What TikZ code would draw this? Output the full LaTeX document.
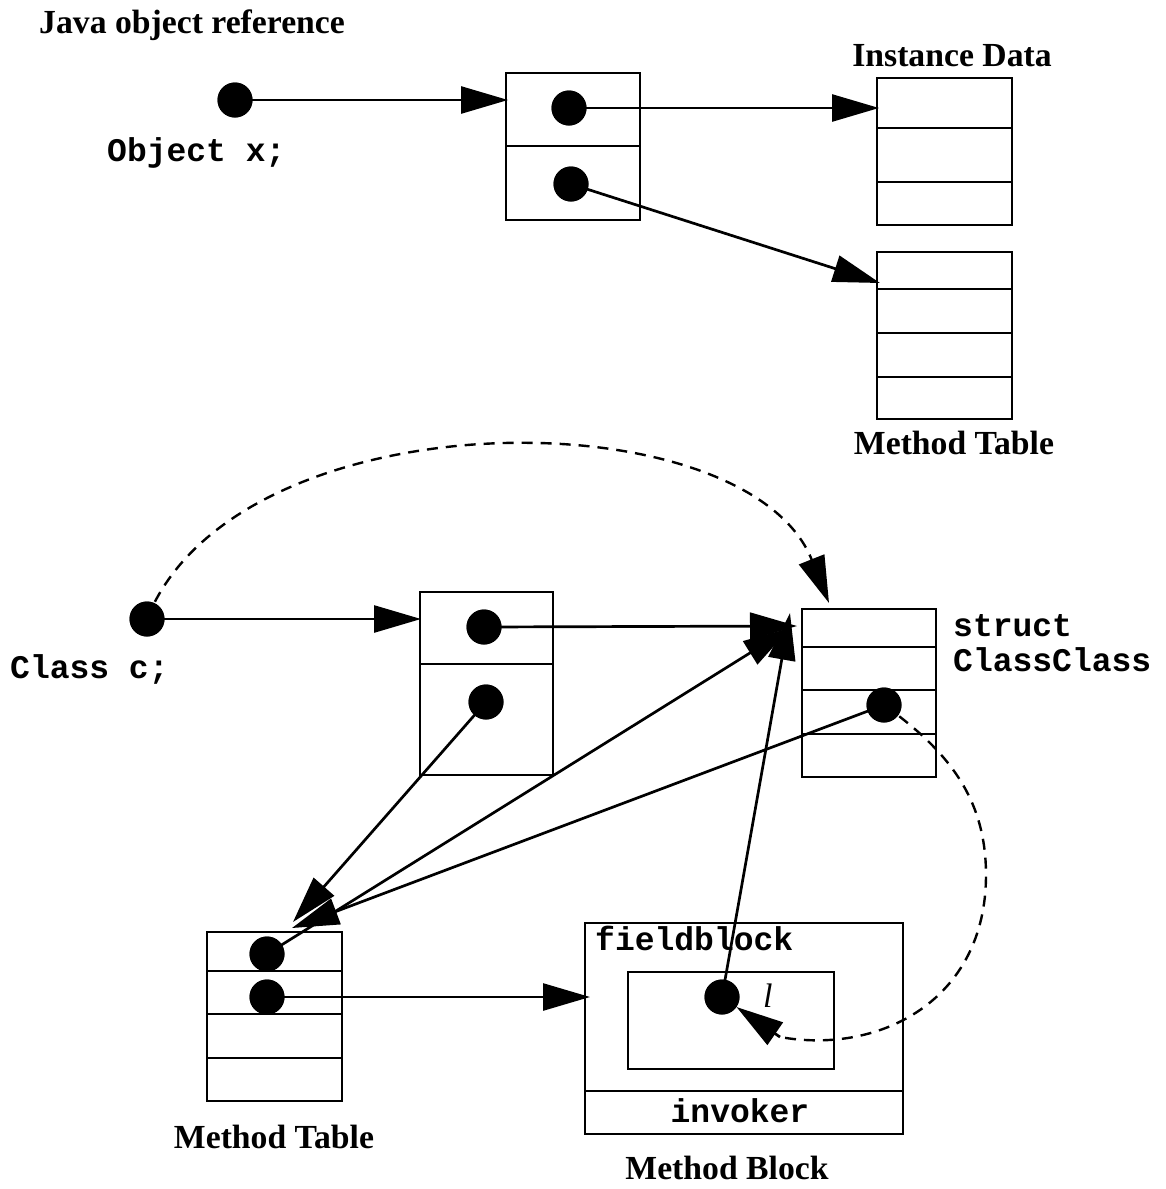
\documentclass[tikz,border=0pt]{standalone}
\usepackage{fontspec}
\setmainfont{Liberation Serif}
\setmonofont{Liberation Mono}
\usetikzlibrary{arrows.meta}
\begin{document}
\begin{tikzpicture}[x=1pt,y=-1pt,
  box/.style={line width=2.9pt},
  tip/.style={-{Triangle[length=47pt,width=27pt]}},
  link/.style={line width=2.7pt,tip},
  weak/.style={line width=2.4pt,dash pattern=on 11pt off 8pt},
  ptr/.style={circle,fill=black,inner sep=0pt,minimum size=35pt},
  lbl/.style={font=\fontsize{33.7}{40}\selectfont\bfseries,inner sep=0pt},
  code/.style={font=\fontsize{33}{40}\selectfont\ttfamily\bfseries,inner sep=0pt}]
\useasboundingbox (0,0) rectangle (1165,1189);

% ---------- upper part: plain object reference ----------
\node[lbl,anchor=base west] (title) at (39,33) {Java object reference};
\node[code,anchor=base west] (objx) at (107,161) {Object x;};

% handle cell
\draw[box] (506,73) rectangle (640,220);
\draw[box] (506,146) -- (640,146);
% instance data
\draw[box] (877,78) rectangle (1012,225);
\foreach \yy in {128,182} \draw[box] (877,\yy) -- (1012,\yy);
\node[lbl,anchor=base] (idata) at (952,66) {Instance Data};
% method table
\draw[box] (877,252) rectangle (1012,419);
\foreach \yy in {289,333,377} \draw[box] (877,\yy) -- (1012,\yy);
\node[lbl,anchor=base] (mtab1) at (954,454) {Method Table};

\coordinate (t0) at (508,100);
\coordinate (t1) at (879,108);
\coordinate (t2) at (880,283);

\node[ptr] (d0) at (235,100) {};
\node[ptr] (d1) at (569,108) {};
\node[ptr] (d2) at (571,184) {};

% ---------- lower part: class reference ----------
\node[code,anchor=base west] (clsc) at (10,678) {Class c;};

% class handle cell
\draw[box] (420,592) rectangle (553,775);
\draw[box] (420,664) -- (553,664);
% struct ClassClass
\draw[box] (802,609) rectangle (936,777);
\foreach \yy in {647,690,734} \draw[box] (802,\yy) -- (936,\yy);
\node[code,anchor=base west] (st1) at (953,636) {struct};
\node[code,anchor=base west] (st2) at (953,671) {ClassClass};
% method table
\draw[box] (207,932) rectangle (342,1101);
\foreach \yy in {971,1014,1058} \draw[box] (207,\yy) -- (342,\yy);
\node[lbl,anchor=base] (mtab2) at (274,1148) {Method Table};
% method block
\draw[box] (585,923) rectangle (903,1134);
\draw[box] (585,1091) -- (903,1091);
\draw[box] (628,972) rectangle (834,1069);
\node[code,anchor=base west] (fb) at (595,950) {fieldblock};
\node[code,anchor=base] (inv) at (740,1122) {invoker};
\node[lbl,anchor=base] (mblk) at (727,1179) {Method Block};
\node[font=\fontsize{34}{40}\selectfont\itshape,inner sep=0pt,anchor=base west] (ell) at (763,1007) {l};

\coordinate (t4) at (421,619);
\coordinate (t5) at (797,626);
\coordinate (t6) at (790,628);
\coordinate (t7) at (790,613);
\coordinate (t8) at (293,922);
\coordinate (t9) at (292,928);
\coordinate (t10) at (590,997);
\coordinate (t11) at (829,603);
\coordinate (w1) at (986,875);
\coordinate (k) at (780,1037);

\node[ptr] (dc) at (147,619) {};
\node[ptr] (d3) at (484,627) {};
\node[ptr] (d4) at (486,702) {};
\node[ptr] (d5) at (884,705) {};
\node[ptr] (m1) at (267,954) {};
\node[ptr] (m2) at (267,997) {};
\node[ptr] (d6) at (722,997) {};

% connectors
\draw[link] (d0.center) -- (t0);
\draw[link] (d1.center) -- (t1);
\draw[link] (d2.center) -- (t2);
\draw[link] (dc.center) -- (t4);
\draw[link] (d3.center) -- (t5);
\draw[link] (m1.center) -- (t6);
\draw[link] (d6.center) -- (t7);
\draw[link] (d4.center) -- (t8);
\draw[link] (d5.center) -- (t9);
\draw[link] (m2.center) -- (t10);
% dashed back-references
\draw[weak,tip] (dc.center) .. controls (236,395) and (746,395) .. (t11);
\draw[weak] (d5.center) .. controls (950,752) and (986,800) .. (w1)
  .. controls (986,1000) and (880,1055) .. (k);
\draw[link] (k) -- (d6);

% pointer dots on top of the lines
\foreach \n in {d0,d1,d2,dc,d3,d4,d5,m1,m2,d6}
  \fill (\n) circle (17.5pt);
\end{tikzpicture}
\end{document}
